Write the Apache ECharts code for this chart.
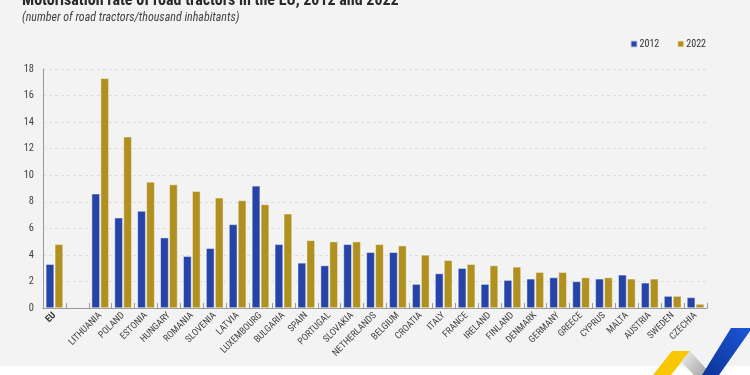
<!DOCTYPE html>
<html>
<head>
<meta charset="utf-8">
<script src="https://cdn.jsdelivr.net/npm/echarts@6/dist/echarts.min.js"></script>
<style>
html,body{margin:0;padding:0;background:#ffffff;}
#chart{width:750px;height:375px;}
</style>
</head>
<body>
<div id="chart"></div>
<script>
var categories = ['EU', '', 'LITHUANIA', 'POLAND', 'ESTONIA', 'HUNGARY', 'ROMANIA', 'SLOVENIA', 'LATVIA', 'LUXEMBOURG', 'BULGARIA', 'SPAIN', 'PORTUGAL', 'SLOVAKIA', 'NETHERLANDS', 'BELGIUM', 'CROATIA', 'ITALY', 'FRANCE', 'IRELAND', 'FINLAND', 'DENMARK', 'GERMANY', 'GREECE', 'CYPRUS', 'MALTA', 'AUSTRIA', 'SWEDEN', 'CZECHIA'];
var values2012 = [3.3, null, 8.6, 6.8, 7.3, 5.3, 3.9, 4.5, 6.3, 9.2, 4.8, 3.4, 3.2, 4.8, 4.2, 4.2, 1.8, 2.6, 3.0, 1.8, 2.1, 2.2, 2.3, 2.0, 2.2, 2.5, 1.9, 0.9, 0.8];
var values2022 = [4.8, null, 17.3, 12.9, 9.5, 9.3, 8.8, 8.3, 8.1, 7.8, 7.1, 5.1, 5.0, 5.0, 4.8, 4.7, 4.0, 3.6, 3.3, 3.2, 3.1, 2.7, 2.7, 2.3, 2.3, 2.2, 2.2, 0.9, 0.3];
var seriesNames = ['2012', '2022'];
var yTicks = {min: 0, max: 18, interval: 2};

var FONT = "'Liberation Sans Narrow', 'Roboto Condensed', 'Liberation Sans', sans-serif";
var chart = echarts.init(document.getElementById('chart'), null, {renderer: 'canvas'});
var option = {
  backgroundColor: '#ffffff',
  animation: false,
  graphic: [
    {type: 'rect', left: 0, top: 0, z: -10, shape: {width: 750, height: 366}, style: {fill: '#f3f3f3'}},
    {type: 'polygon', z: 10, shape: {points: [[653, 375], [672, 351], [690, 351], [671, 375]]}, style: {fill: '#f8c700'}},
    {type: 'polygon', z: 10, shape: {points: [[681, 362], [690, 351], [712, 375], [694, 375]]},
      style: {fill: new echarts.graphic.LinearGradient(0, 0, 1, 1, [{offset: 0, color: '#f0f0f0'}, {offset: 1, color: '#9a9a9a'}])}},
    {type: 'polygon', z: 10, shape: {points: [[702, 375], [731, 328], [750, 328], [750, 331], [719, 375]]},
      style: {fill: new echarts.graphic.LinearGradient(1, 0, 0, 1, [{offset: 0, color: '#1e55d6'}, {offset: 1, color: '#0b3596'}])}}
  ],
  title: [
    {text: 'Motorisation rate of road tractors in the EU, 2012 and 2022', left: 22, top: -7, padding: 0,
      textStyle: {fontFamily: FONT, fontSize: 16, fontWeight: 'bold', color: '#2a2a2a'}},
    {text: '(number of road tractors/thousand inhabitants)', left: 22, top: 12, padding: 0,
      textStyle: {fontFamily: FONT, fontSize: 12, fontStyle: 'italic', fontWeight: 'normal', color: '#444'}}
  ],
  legend: {
    right: 44, top: 39, padding: 0, itemWidth: 7, itemHeight: 7, itemGap: 17,
    icon: 'rect',
    textStyle: {fontFamily: FONT, fontSize: 10, color: '#333', padding: [0, 0, 0, -3]},
    data: seriesNames
  },
  grid: {left: 43, right: 43, top: 69, bottom: 67, containLabel: false},
  xAxis: {
    type: 'category', data: categories,
    axisLine: {lineStyle: {color: '#999', width: 1}},
    axisTick: {show: true, inside: true, length: 5, lineStyle: {color: '#999'}},
    axisLabel: {
      rotate: 45, interval: 0, margin: 6, fontFamily: FONT, fontSize: 9.5, color: '#444',
      formatter: function (v) { return v === 'EU' ? '{b|EU}' : v; },
      rich: {b: {fontWeight: 'bold', fontFamily: FONT, fontSize: 9.5, color: '#333'}}
    }
  },
  yAxis: {
    type: 'value', min: yTicks.min, max: yTicks.max, interval: yTicks.interval,
    axisLine: {show: true, lineStyle: {color: '#999'}},
    axisTick: {show: false},
    axisLabel: {fontFamily: FONT, fontSize: 10.5, color: '#444', margin: 9},
    splitLine: {lineStyle: {color: '#dcdcdc', type: [3, 3]}}
  },
  series: [
    {name: seriesNames[0], type: 'bar', data: values2012, barWidth: 8.3, barGap: '8%',
      itemStyle: {color: '#2644a7', borderColor: 'rgba(255,255,255,0.7)', borderWidth: 0.6}},
    {name: seriesNames[1], type: 'bar', data: values2022, barWidth: 8.3,
      itemStyle: {color: '#b09120', borderColor: 'rgba(255,255,255,0.7)', borderWidth: 0.6}}
  ]
};
chart.setOption(option);
</script>
</body>
</html>
